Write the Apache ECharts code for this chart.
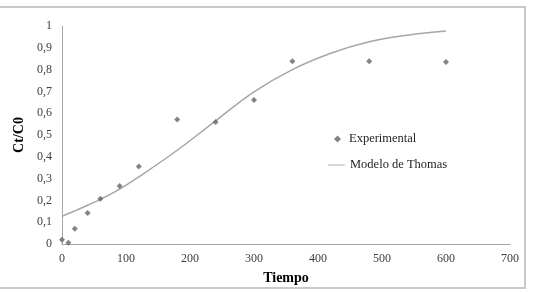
<!DOCTYPE html>
<html>
<head>
<meta charset="utf-8">
<script src="https://cdn.jsdelivr.net/npm/echarts@6/dist/echarts.min.js"></script>
<style>
  html, body { margin: 0; padding: 0; background: #fff; }
  #chart { width: 534px; height: 292px; }
</style>
</head>
<body>
<div id="chart"></div>
<script>
// datos
const expTime = [0, 10, 20, 40, 60, 90, 120, 180, 240, 300, 360, 480, 600];
const expValue = [0.02, 0.006, 0.07, 0.142, 0.207, 0.266, 0.356, 0.571, 0.56, 0.66, 0.838, 0.838, 0.835];
const modelTime = [0, 10, 20, 40, 60, 90, 120, 180, 240, 300, 360, 420, 480, 540, 600];
const modelValue = [0.127, 0.14, 0.152, 0.178, 0.205, 0.252, 0.308, 0.43, 0.565, 0.698, 0.8, 0.875, 0.928, 0.958, 0.977];
const yTickLabels = ["0", "0,1", "0,2", "0,3", "0,4", "0,5", "0,6", "0,7", "0,8", "0,9", "1"];

const chart = echarts.init(document.getElementById("chart"));
const serif = "Liberation Serif";
const legendText = { fontFamily: serif, fontSize: 12.5, color: "#262626", lineHeight: 14 };

chart.setOption({
  animation: false,
  backgroundColor: "#fff",
  grid: { left: 62, right: 24, top: 26, bottom: 48 },
  legend: [
    {
      data: [{ name: "Experimental", icon: "diamond" }],
      left: 329,
      top: 127,
      itemWidth: 7,
      itemHeight: 7,
      textStyle: Object.assign({ padding: [0, 0, 0, 3] }, legendText)
    },
    {
      data: [{ name: "Modelo de Thomas", icon: "path://M0,0L20,0L20,1L0,1Z" }],
      left: 323,
      top: 153,
      itemWidth: 17,
      itemHeight: 1.5,
      itemStyle: { color: "#a6a6a6" },
      textStyle: legendText
    }
  ],
  xAxis: {
    type: "value",
    min: 0,
    max: 700,
    interval: 100,
    name: "Tiempo",
    nameLocation: "middle",
    nameGap: 27,
    nameTextStyle: { fontFamily: serif, fontSize: 14, fontWeight: "bold", color: "#000" },
    axisLine: { show: true, lineStyle: { color: "#a6a6a6", width: 1 } },
    axisTick: { show: false },
    splitLine: { show: false },
    axisLabel: { fontFamily: serif, fontSize: 12, color: "#404040", margin: 9 }
  },
  yAxis: {
    type: "value",
    min: 0,
    max: 1,
    interval: 0.1,
    name: "Ct/C0",
    nameLocation: "middle",
    nameGap: 30,
    nameRotate: 90,
    nameTextStyle: { fontFamily: serif, fontSize: 14, fontWeight: "bold", color: "#000" },
    axisLine: { show: true, lineStyle: { color: "#a6a6a6", width: 1 } },
    axisTick: { show: false },
    splitLine: { show: false },
    axisLabel: {
      fontFamily: serif,
      fontSize: 12,
      color: "#404040",
      margin: 10,
      formatter: v => yTickLabels[Math.round(v * 10)]
    }
  },
  graphic: [
    {
      type: "polyline",
      shape: { points: [[0, 7], [525, 7], [525, 288], [0, 288]] },
      style: { stroke: "#c8c8c8", lineWidth: 2, fill: null },
      silent: true
    }
  ],
  series: [
    {
      name: "Experimental",
      type: "scatter",
      symbol: "diamond",
      symbolSize: 6,
      itemStyle: { color: "#5f6470" },
      data: expTime.map((t, i) => [t, expValue[i]]),
      z: 3
    },
    {
      name: "Modelo de Thomas",
      type: "line",
      smooth: 0.4,
      showSymbol: false,
      symbol: "none",
      lineStyle: { color: "#a6a6a6", width: 1.5 },
      itemStyle: { color: "#a6a6a6" },
      data: modelTime.map((t, i) => [t, modelValue[i]]),
      z: 2
    }
  ]
});
</script>
</body>
</html>
